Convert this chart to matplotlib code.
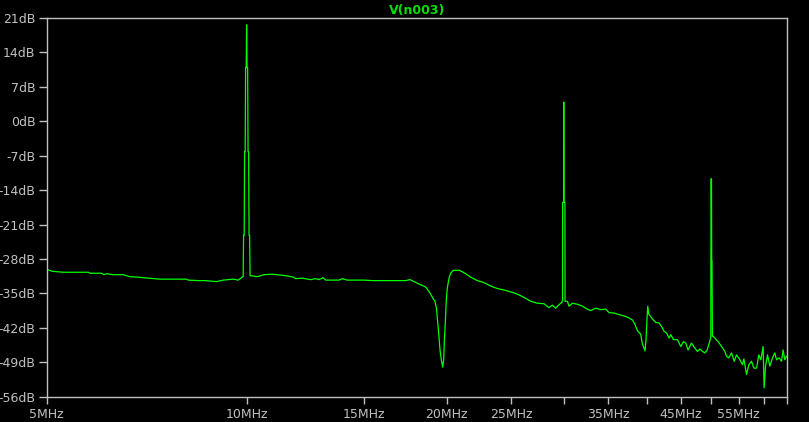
import matplotlib.pyplot as plt
from matplotlib.ticker import FixedLocator, FixedFormatter, NullLocator

# FFT of V(n003)
freq_mhz = [
    5.00, 5.10, 5.30, 5.78, 5.81, 6.05, 6.10, 6.16, 6.30, 6.52, 6.67, 6.87, 7.11, 7.40,
    8.12, 8.17, 8.46, 8.65, 9.01, 9.22, 9.55, 9.71, 9.83,
    9.86, 9.88, 9.895, 9.915, 9.93, 9.95, 9.965, 9.985, 10.0, 10.015, 10.035, 10.05, 10.07,
    10.085, 10.105, 10.12, 10.14,
    10.38, 10.62, 10.90, 11.12, 11.45, 11.76, 11.85, 12.13, 12.48, 12.70, 12.85, 13.03,
    13.15, 13.77, 13.93, 14.17, 15.01, 15.46, 16.66, 17.35, 17.61, 17.86, 18.17, 18.60,
    18.87, 19.07, 19.20, 19.30, 19.36, 19.47, 19.54, 19.63, 19.72, 19.79, 19.84, 19.91,
    19.97, 20.04, 20.16, 20.27, 20.47, 20.87, 21.11, 21.36, 21.73, 22.24, 22.75, 23.29,
    23.83, 24.53, 25.25, 25.69, 26.29, 26.75, 27.38, 28.01, 28.50, 28.84, 29.17, 29.51,
    29.80,
    29.87, 29.88, 29.98, 30.0, 30.02, 30.12, 30.13,
    30.38, 30.55, 30.91, 31.45, 32.00, 32.56, 32.93, 33.51, 34.09, 34.69, 35.09, 35.70,
    36.33, 37.18, 37.61, 38.05, 38.36, 38.72, 39.16, 39.39, 39.61, 39.75, 39.89, 40.03,
    40.13, 40.27, 40.79, 41.25, 41.73, 42.08, 42.46, 42.86, 43.20, 43.46, 43.87, 44.48,
    44.99, 45.41, 45.78, 46.14, 46.69, 47.23, 47.67, 48.07, 48.52, 48.91, 49.30, 49.64,
    49.92, 49.96, 50.04, 50.08, 50.13, 50.20,
    50.33, 50.93, 51.21, 51.64, 52.00, 52.41, 52.72, 53.14, 53.64, 54.13, 54.58, 55.21,
    55.72, 55.98, 56.50, 56.95, 57.49, 57.95, 58.49, 58.96, 59.37, 59.84, 60.05, 60.34,
    60.76, 61.25, 61.82, 62.32, 62.69, 63.25, 63.78, 64.13, 64.51, 64.89,
]
level_db = [
    -30.1, -30.5, -30.7, -30.7, -30.9, -30.9, -31.2, -31.0, -31.2, -31.2, -31.6, -31.7, -31.9, -32.1,
    -32.1, -32.3, -32.4, -32.4, -32.6, -32.3, -32.1, -32.3, -31.8,
    -31.6, -31.6, -23.2, -23.2, -6.2, -6.2, 10.9, 10.9, 19.6, 10.9, 10.9, -6.2, -6.2,
    -23.2, -23.2, -31.4, -31.4,
    -31.6, -31.2, -31.1, -31.2, -31.4, -31.7, -32.0, -31.9, -32.2, -32.0, -32.2, -31.8,
    -32.3, -32.3, -32.0, -32.3, -32.3, -32.4, -32.4, -32.4, -32.2, -32.6, -33.1, -33.7,
    -34.9, -36.0, -36.6, -38.0, -40.0, -43.8, -46.5, -48.5, -50.0, -48.5, -44.4, -40.4,
    -36.3, -33.9, -31.9, -30.9, -30.3, -30.3, -30.6, -31.0, -31.7, -32.4, -32.8, -33.5,
    -34.0, -34.4, -34.9, -35.3, -36.0, -36.6, -37.0, -37.1, -37.9, -37.4, -38.0, -37.3,
    -36.8,
    -36.4, -16.5, -16.5, 3.9, -16.5, -16.5, -36.6,
    -36.6, -37.6, -37.0, -37.2, -37.6, -38.2, -38.5, -38.0, -38.3, -38.2, -38.9, -39.0,
    -39.3, -39.7, -40.0, -40.4, -41.2, -42.6, -43.3, -45.3, -46.1, -46.7, -44.4, -40.0,
    -37.6, -39.2, -40.2, -40.9, -41.0, -41.7, -42.7, -43.1, -44.1, -43.4, -44.4, -44.4,
    -45.8, -44.8, -45.1, -46.5, -45.1, -46.1, -46.8, -46.3, -46.8, -47.1, -46.5, -45.1,
    -44.0, -11.7, -11.7, -28.4, -28.4, -43.7,
    -43.7, -44.5, -44.8, -45.5, -46.1, -46.8, -47.8, -48.1, -47.1, -48.8, -47.5, -48.5,
    -49.5, -48.3, -51.5, -49.5, -48.8, -50.2, -50.2, -47.5, -48.5, -45.8, -54.2, -49.8,
    -47.5, -49.8, -48.1, -47.1, -48.5, -48.1, -48.8, -46.5, -48.5, -47.8,
]

x_ticks = [5, 10, 15, 20, 25, 30, 35, 40, 45, 50, 55, 60, 65]
x_labels = ['5MHz', '10MHz', '15MHz', '20MHz', '25MHz', '', '35MHz', '', '45MHz', '', '55MHz', '', '']
y_ticks = [21, 14, 7, 0, -7, -14, -21, -28, -35, -42, -49, -56]

grey = '#c0c0c0'
green = '#00ff00'

fig = plt.figure(figsize=(8.09, 4.22), dpi=100, facecolor='black')
ax = fig.add_axes([0.0575, 0.06, 0.9153, 0.8974], facecolor='black')

ax.plot(freq_mhz, level_db, color=green, linewidth=0.9)

ax.set_xscale('log')
ax.set_xlim(5, 65)
ax.set_ylim(-56, 21)

ax.xaxis.set_major_locator(FixedLocator(x_ticks))
ax.xaxis.set_major_formatter(FixedFormatter(x_labels))
ax.xaxis.set_minor_locator(NullLocator())
ax.set_yticks(y_ticks)
ax.set_yticklabels([f'{v}dB' for v in y_ticks])

for s in ax.spines.values():
    s.set_color(grey)
    s.set_linewidth(1.0)
ax.tick_params(colors=grey, labelcolor=grey, labelsize=9, length=6, width=1.0, pad=2)
ax.tick_params(axis='x', length=5, pad=3)

ax.set_title('V(n003)', color='#00e000', fontsize=9, fontweight='bold', pad=3)

plt.savefig('out.png', dpi=100, facecolor='black')
